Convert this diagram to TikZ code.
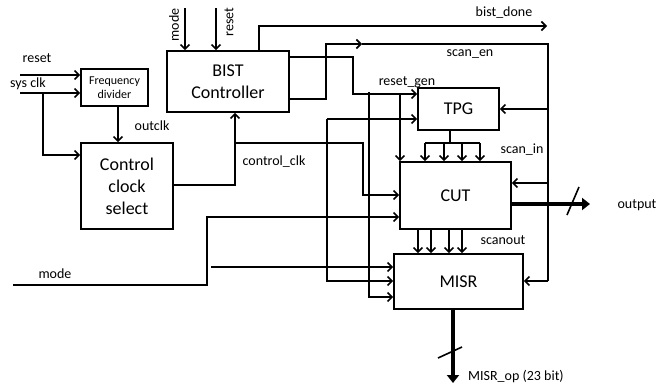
\documentclass[tikz,border=0pt]{standalone}
\usepackage{fontspec}
\setmainfont{Carlito}
\usetikzlibrary{arrows.meta}
\begin{document}
\begin{tikzpicture}[x=1pt,y=-1pt,
  wire/.style={line width=1.6pt},
  arr/.style={wire,-{Straight Barb[length=4.5pt,width=9pt,line width=1.6pt]}},
  bus/.style={line width=4.5pt,-{Triangle[length=8pt,width=12pt]}},
  blk/.style={draw,line width=1.6pt,inner sep=0pt,align=center,font=\fontsize{18}{22}\selectfont},
  lbl/.style={inner sep=0pt,font=\fontsize{14}{16}\selectfont}]
\useasboundingbox[fill=white] (0,0) rectangle (656,389);
% blocks
\node[blk,minimum width=67pt,minimum height=37pt,font=\fontsize{12}{14}\selectfont] (fd) at (114.5,87.5) {Frequency\\divider};
\node[blk,minimum width=92pt,minimum height=86pt] (ccs) at (127,186) {Control\\clock\\select};
\node[blk,minimum width=122pt,minimum height=61pt] (bist) at (228,81.5) {BIST\\Controller};
\node[blk,minimum width=81pt,minimum height=42pt] (tpg) at (458.5,109) {TPG};
\node[blk,minimum width=111pt,minimum height=67pt] (cut) at (455.5,195.5) {CUT};
\node[blk,minimum width=129pt,minimum height=55pt] (mis) at (458.5,281.5) {MISR};
% free ends
\coordinate (rsin) at (20,75);
\coordinate (scin) at (20,93);
\coordinate (scbr) at (43,93);
\coordinate (mdtop) at (185,8);
\coordinate (rttop) at (216,8);
\coordinate (ccj) at (235,143);
\coordinate (bdend) at (547,26);
\coordinate (rgj) at (400,94);
\coordinate (rgj2) at (369,92);
\coordinate (sen) at (326,44);
\coordinate (senm) at (362,44);
\coordinate (senr) at (548,44);
\coordinate (lp) at (327,119);
\coordinate (mdin) at (13,285);
\coordinate (md2) at (211,267);
\coordinate (outend) at (590,204);
\coordinate (opend) at (453,383);
% inputs
\draw[arr] (rsin) -- (rsin -| fd.west);
\draw[arr] (scin) -- (scin -| fd.west);
\draw[arr] (scbr) |- (ccs.west |- 0,155);
\draw[arr] (mdtop) -- (mdtop |- bist.north);
\draw[arr] (rttop) -- (rttop |- bist.north);
\draw[arr] (118,0 |- fd.south) -- (118,0 |- ccs.north);
% control clock
\draw[arr] (ccs.east |- 0,185) -| (235,0 |- bist.south);
\draw[arr] (ccj) -| (363,195) -- (cut.west |- 0,195);
% bist_done
\draw[arr] (259,0 |- bist.north) |- (bdend);
% reset_gen
\draw[arr] (bist.east |- 0,57) -| (353,94) -- (tpg.west |- 0,94);
\draw[arr] (rgj) -- (rgj |- cut.north);
\draw[arr] (rgj2) |- (mis.west |- 0,297);
% scan_en
\draw[arr] (bist.east |- 0,99) -| (sen) -- (senm);
\draw[wire] (senm) -- (senr) -- (senr |- 0,281);
\draw[arr] (548,109) -- (tpg.east |- 0,109);
\draw[arr] (548,183) -- (cut.east |- 0,183);
\draw[arr] (548,281) -- (mis.east |- 0,281);
% loop TPG / MISR
\draw[arr] (lp) -- (tpg.west |- lp);
\draw[arr] (lp) |- (mis.west |- 0,281);
% mode
\draw[arr] (mdin) -| (207,217) -- (cut.west |- 0,217);
\draw[arr] (md2) -- (mis.west |- md2);
% TPG to CUT bus
\draw[wire] (450,0 |- tpg.south) -- (450,143);
\draw[wire] (425,143) -- (480,143);
\foreach \x in {425,444,462,480} \draw[arr] (\x,143) -- (\x,0 |- cut.north);
% CUT to MISR
\foreach \x in {418,431,449,462} \draw[arr] (\x,0 |- cut.south) -- (\x,0 |- mis.north);
% outputs
\draw[bus] (cut.east |- outend) -- (outend);
\draw[line width=1.6pt] (567,215) -- (579,187);
\draw[bus] (opend |- mis.south) -- (opend);
\draw[line width=1.6pt] (438,358) -- (462,347);
% labels
\node[lbl] (l1) at (37,58) {reset};
\node[lbl] (l2) at (28,84) {sys clk};
\node[lbl] (l3) at (152,126) {outclk};
\node[lbl] (l4) at (274,162) {control\_clk};
\node[lbl] (l5) at (504,13) {bist\_done};
\node[lbl] (l6) at (470,54) {scan\_en};
\node[lbl] (l7) at (407,82) {reset\_gen};
\node[lbl] (l8) at (522,150) {scan\_in};
\node[lbl] (l9) at (503,240) {scanout};
\node[lbl] (l10) at (637,205) {output};
\node[lbl,anchor=west] (l11) at (468,377) {MISR\_op (23 bit)};
\node[lbl] (l12) at (55,274) {mode};
\node[lbl,rotate=90] (l13) at (174,25) {mode};
\node[lbl,rotate=90] (l14) at (229,22) {reset};
\end{tikzpicture}
\end{document}
